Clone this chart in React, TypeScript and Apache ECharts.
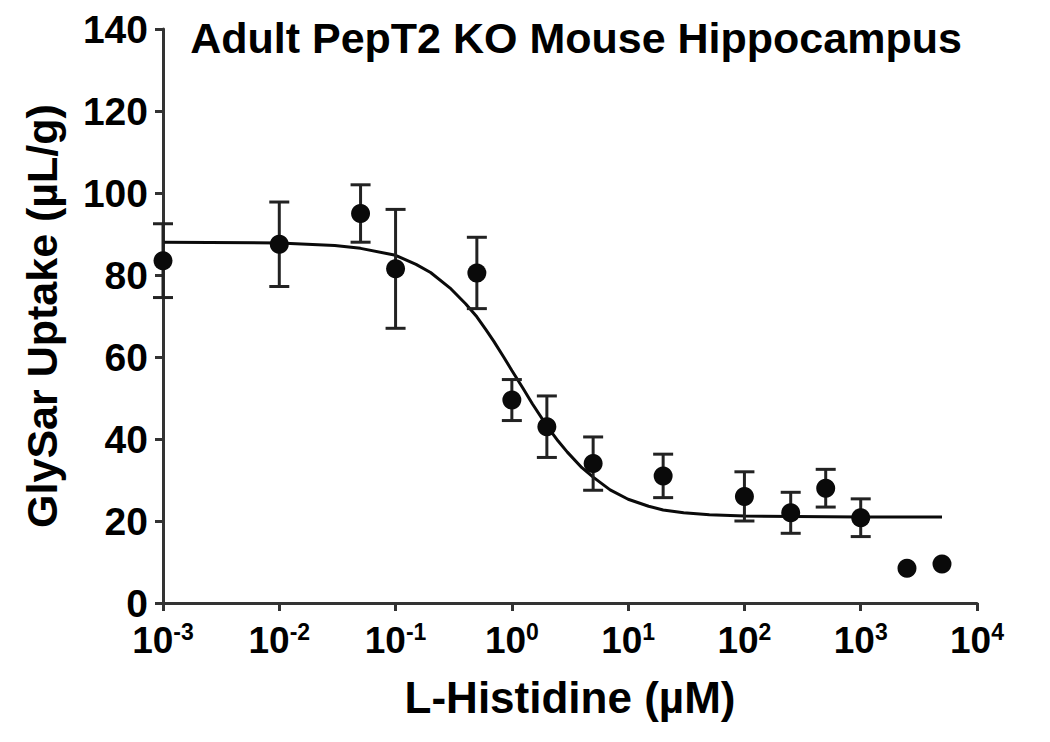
import React, { useEffect, useRef } from "react";
import * as echarts from "echarts";

// ---- data ----
const doseUM = [0.001, 0.01, 0.05, 0.1, 0.5, 1, 2, 5, 20, 100, 250, 500, 1000, 2500, 5000];
const uptake = [83.5, 87.5, 95, 81.5, 80.5, 49.5, 43, 34, 31, 26, 22, 28, 20.8, 8.5, 9.5];
const sem = [9, 10.3, 7, 14.5, 8.7, 5, 7.5, 6.5, 5.3, 6, 5, 4.6, 4.6, 0, 0];

// fitted curve
const fitX = [0.001, 0.01, 0.03, 0.05, 0.1, 0.15, 0.2, 0.3, 0.4, 0.5, 0.6, 0.7, 0.85, 1, 1.25, 1.5, 2, 2.5, 3, 4, 5, 7, 10, 15, 20, 30, 50, 100, 1000, 5000];
const fitY = [88, 87.8, 87.2, 86.5, 84.8, 82.6, 80.6, 76.6, 73, 69.8, 66.6, 63.8, 60, 56.7, 52.3, 48.6, 43.2, 39.5, 36.8, 33, 30.7, 27.6, 25.3, 23.6, 22.7, 22, 21.5, 21.2, 21, 21];

const xTickExps = ["-3", "-2", "-1", "0", "1", "2", "3", "4"];
const yTicks = [0, 20, 40, 60, 80, 100, 120, 140];

const titleText = "Adult PepT2 KO Mouse Hippocampus";
const xName = "L-Histidine (\u00B5M)";
const yName = "GlySar Uptake (\u00B5L/g)";

const FONT = "'Liberation Sans', Arial, Helvetica, sans-serif";

export default function App() {
  const ref = useRef<HTMLDivElement>(null);

  useEffect(() => {
    if (!ref.current) return;
    const chart = echarts.init(ref.current, null, { renderer: "svg" });

    const points = doseUM.map((x, i) => [x, uptake[i]]);
    const errData = doseUM
      .map((x, i) => (sem[i] > 0 ? [x, uptake[i] - sem[i], uptake[i] + sem[i]] : null))
      .filter((d) => d !== null);
    const fit = fitX.map((x, i) => [x, fitY[i]]);

    const ink = "#0a0a0a";

    chart.setOption({
      animation: false,
      backgroundColor: "#fff",
      grid: { left: 163, right: 73, top: 29, bottom: 139, containLabel: false },
      graphic: [
        {
          type: "text",
          x: 576,
          y: 16,
          style: {
            text: titleText,
            font: `bold 43px ${FONT}`,
            fill: "#000",
            textAlign: "center",
            textVerticalAlign: "top",
          },
        },
      ],
      xAxis: {
        type: "log",
        logBase: 10,
        min: 0.001,
        max: 10000,
        splitNumber: 7,
        name: xName,
        nameLocation: "middle",
        nameGap: 72,
        nameTextStyle: { fontFamily: FONT, fontWeight: "bold", fontSize: 44, color: "#000" },
        axisLine: { show: true, lineStyle: { color: "#333", width: 3 } },
        axisTick: { show: true, length: 8, lineStyle: { color: "#333", width: 3 } },
        minorTick: { show: false },
        splitLine: { show: false },
        axisLabel: {
          margin: 17,
          formatter: (v: number) => {
            const e = Math.round(Math.log10(v));
            return `{b|10}{s|${xTickExps[e + 3]}}`;
          },
          rich: {
            b: { fontFamily: FONT, fontWeight: "bold", fontSize: 37, color: "#000", lineHeight: 40 },
            s: {
              fontFamily: FONT,
              fontWeight: "bold",
              fontSize: 23,
              color: "#000",
              lineHeight: 24,
              verticalAlign: "top",
            },
          },
        },
      },
      yAxis: {
        type: "value",
        min: yTicks[0],
        max: yTicks[yTicks.length - 1],
        interval: 20,
        name: yName,
        nameLocation: "middle",
        nameGap: 100,
        nameTextStyle: { fontFamily: FONT, fontWeight: "bold", fontSize: 43, color: "#000" },
        axisLine: { show: true, lineStyle: { color: "#333", width: 3 } },
        axisTick: { show: true, length: 8, lineStyle: { color: "#333", width: 3 } },
        splitLine: { show: false },
        axisLabel: {
          margin: 15,
          fontFamily: FONT,
          fontWeight: "bold",
          fontSize: 39,
          color: "#000",
        },
      },
      series: [
        {
          type: "line",
          data: fit,
          smooth: false,
          showSymbol: false,
          symbol: "none",
          lineStyle: { color: ink, width: 3 },
          z: 3,
        },
        {
          type: "custom",
          data: errData,
          z: 4,
          renderItem: (_params: any, api: any) => {
            const x = api.value(0);
            const lo = api.coord([x, api.value(1)]);
            const hi = api.coord([x, api.value(2)]);
            const hw = 10;
            const style = { stroke: "#222", lineWidth: 3 };
            return {
              type: "group",
              children: [
                { type: "line", shape: { x1: lo[0], y1: lo[1], x2: hi[0], y2: hi[1] }, style },
                { type: "line", shape: { x1: lo[0] - hw, y1: lo[1], x2: lo[0] + hw, y2: lo[1] }, style },
                { type: "line", shape: { x1: hi[0] - hw, y1: hi[1], x2: hi[0] + hw, y2: hi[1] }, style },
              ],
            };
          },
        },
        {
          type: "scatter",
          data: points,
          symbol: "circle",
          symbolSize: 19,
          itemStyle: { color: ink, opacity: 1 },
          clip: false,
          z: 5,
        },
      ],
    });

    return () => chart.dispose();
  }, []);

  return (
    <div
      ref={ref}
      style={{ position: "absolute", left: 0, top: 0, width: 1050, height: 742, background: "#fff" }}
    />
  );
}
